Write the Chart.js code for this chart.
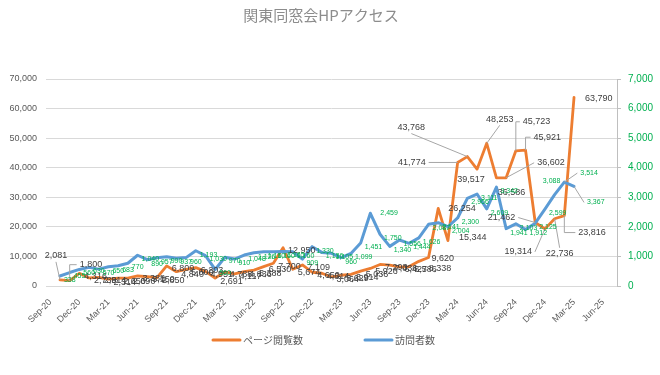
<!DOCTYPE html>
<html>
<head>
<meta charset="utf-8">
<script src="https://cdn.jsdelivr.net/npm/chart.js@4"></script>
<style>
  html, body { margin: 0; padding: 0; background: #fff; }
  #wrap { width: 660px; height: 375px; }
</style>
</head>
<body>
<div id="wrap"><canvas id="accessChart"></canvas></div>
<script>
const months = ["Oct-20","Nov-20","Dec-20","Jan-21","Feb-21","Mar-21","Apr-21","May-21","Jun-21","Jul-21","Aug-21","Sep-21",
  "Oct-21","Nov-21","Dec-21","Jan-22","Feb-22","Mar-22","Apr-22","May-22","Jun-22","Jul-22","Aug-22","Sep-22",
  "Oct-22","Nov-22","Dec-22","Jan-23","Feb-23","Mar-23","Apr-23","May-23","Jun-23","Jul-23","Aug-23","Sep-23",
  "Oct-23","Nov-23","Dec-23","Jan-24","Feb-24","Mar-24","Apr-24","May-24","Jun-24","Jul-24","Aug-24","Sep-24",
  "Oct-24","Nov-24","Dec-24","Jan-25","Feb-25","Mar-25"];

const tickLabels = ["Sep-20","Dec-20","Mar-21","Jun-21","Sep-21","Dec-21","Mar-22","Jun-22","Sep-22","Dec-22",
  "Mar-23","Jun-23","Sep-23","Dec-23","Mar-24","Jun-24","Sep-24","Dec-24","Mar-25","Jun-25"];

const pageViews = [2081, 1800, 4316, 2738, 2914, 2314, 2650, 2690, 3388, 3150,
  2850, 6809, 4840, 5600, 6203, 4951, 2691, 4788, 4117, 4836,
  5388, 6530, 7700, 12950, 5674, 7109, 4650, 4314, 3064, 3629,
  3914, 5036, 5926, 7293, 7036, 6427, 6586, 8338, 9620, 26254,
  15344, 41774, 43768, 39517, 48253, 36586, 36602, 45723, 45921, 21462,
  19314, 22736, 23816, 63790];

const visitors = [338, 455, 560, 630, 570, 650, 683, 770, 1040, 890,
  957, 990, 937, 960, 1193, 1030, 560, 970, 910, 1048,
  1126, 1160, 1160, 1165, 1160, 909, 1330, 1136, 1105, 960,
  1099, 1451, 2459, 1750, 1340, 1556, 1444, 1626, 2087, 2141,
  2004, 2300, 2966, 3111, 2609, 3342, 1941, 2103, 1912, 2125,
  2599, 3088, 3514, 3367];

const seriesNames = ["ページ閲覧数", "訪問者数"];
const chartTitle = "関東同窓会HPアクセス";

// month offset from Sep-20 (first tick)
const toPoints = arr => arr.map((v, i) => ({ x: i + 1, y: v }));

// hand-placed labels (dataset-index): offset from point, alignment, leader line
const labelSpots = {
  "0-0": { dx: -4, dy: -24, align: "center", line: "straight" },
  "0-1": { dx: 10, dy: -16, align: "left", line: "elbow" },
  "0-37": { dx: 10, dy: 7, align: "left" },
  "0-38": { dx: 3, dy: 1, align: "left" },
  "0-39": { dx: 10, dy: 0, align: "left" },
  "0-40": { dx: 11, dy: -3, align: "left" },
  "0-41": { dx: -32, dy: 0, align: "right", line: "straight" },
  "0-42": { dx: -56, dy: -29, align: "center", line: "straight" },
  "0-43": { dx: -6, dy: 10, align: "center" },
  "0-44": { dx: 13, dy: -24, align: "center", line: "straight" },
  "0-45": { dx: 15, dy: 15, align: "center" },
  "0-46": { dx: 31, dy: -15, align: "left", line: "straight" },
  "0-47": { dx: 7, dy: -29, align: "left", line: "elbow" },
  "0-48": { dx: 8, dy: -13, align: "left", line: "elbow" },
  "0-49": { dx: -20, dy: -5, align: "right", line: "straight" },
  "0-50": { dx: -13, dy: 23, align: "right", line: "straight" },
  "0-51": { dx: 5, dy: 35, align: "center", line: "straight" },
  "0-52": { dx: 14, dy: 17, align: "left", line: "elbow" },
  "0-53": { dx: 11, dy: 1, align: "left" },
  "1-32": { dx: 10, dy: 0, align: "left" },
  "1-51": { dx: -3, dy: -14, align: "center" },
  "1-52": { dx: 16, dy: -9, align: "left", line: "straight" },
  "1-53": { dx: 13, dy: 16, align: "left", line: "straight" }
};

const dataLabels = {
  id: "dataLabels",
  afterDatasetsDraw(chart, args, opts) {
    const ctx = chart.ctx;
    chart.data.datasets.forEach((ds, di) => {
      const style = opts.styles[di];
      chart.getDatasetMeta(di).data.forEach((pt, i) => {
        const text = ds.data[i].y.toLocaleString("en-US");
        const spot = labelSpots[di + "-" + i] || { dx: style.dx, dy: style.dy, align: "left" };
        const lx = pt.x + spot.dx;
        const ly = pt.y + spot.dy;
        ctx.save();
        ctx.font = style.font;
        ctx.fillStyle = style.color;
        ctx.textAlign = spot.align;
        ctx.textBaseline = "middle";
        ctx.fillText(text, lx, ly);
        if (spot.line) {
          let sx = lx, sy = ly;
          if (spot.align === "left") sx = lx - 3;
          else if (spot.align === "right") sx = lx + 3;
          else sy = ly + (spot.dy < 0 ? 6 : -6);
          ctx.strokeStyle = "#a6a6a6";
          ctx.lineWidth = 1;
          ctx.beginPath();
          ctx.moveTo(sx, sy);
          if (spot.line === "elbow") ctx.lineTo(pt.x, sy);
          ctx.lineTo(pt.x, pt.y);
          ctx.stroke();
        }
        ctx.restore();
      });
    });
  }
};

const titleAndLegend = {
  id: "titleAndLegend",
  afterDraw(chart) {
    const ctx = chart.ctx;
    ctx.save();
    ctx.font = "15px 'Noto Sans CJK JP'";
    ctx.fillStyle = "#8c8c8c";
    ctx.textAlign = "center";
    ctx.textBaseline = "middle";
    ctx.fillText(chartTitle, 321, 15);

    const items = [
      { x: 213, color: "#ED7D31", text: seriesNames[0] },
      { x: 365, color: "#5B9BD5", text: seriesNames[1] }
    ];
    ctx.font = "10px 'Noto Sans CJK JP'";
    ctx.fillStyle = "#595959";
    ctx.textAlign = "left";
    items.forEach(it => {
      ctx.strokeStyle = it.color;
      ctx.lineWidth = 3;
      ctx.lineCap = "round";
      ctx.beginPath();
      ctx.moveTo(it.x, 340);
      ctx.lineTo(it.x + 27, 340);
      ctx.stroke();
      ctx.fillText(it.text, it.x + 30, 340);
    });
    ctx.restore();
  }
};

const ctx = document.getElementById("accessChart").getContext("2d");
new Chart(ctx, {
  type: "line",
  data: {
    datasets: [
      {
        label: seriesNames[0],
        data: toPoints(pageViews),
        yAxisID: "y",
        borderColor: "#ED7D31",
        borderWidth: 2.8,
        pointRadius: 0,
        borderJoinStyle: "round",
        borderCapStyle: "round",
        order: 2
      },
      {
        label: seriesNames[1],
        data: toPoints(visitors),
        yAxisID: "y1",
        borderColor: "#5B9BD5",
        borderWidth: 3,
        pointRadius: 0,
        borderJoinStyle: "round",
        borderCapStyle: "round",
        order: 1
      }
    ]
  },
  options: {
    responsive: true,
    maintainAspectRatio: false,
    animation: false,
    layout: { padding: { top: 79, bottom: 39, left: 0, right: 0 } },
    plugins: {
      legend: { display: false },
      title: { display: false },
      tooltip: { enabled: false },
      dataLabels: {
        styles: [
          { font: "9px 'Liberation Sans'", color: "#404040", dx: 5, dy: 3 },
          { font: "7px 'Liberation Sans'", color: "#00B050", dx: 4, dy: 4 }
        ]
      }
    },
    scales: {
      x: {
        type: "linear",
        min: -0.44,
        max: 58.43,
        afterBuildTicks: scale => {
          scale.ticks = tickLabels.map((_, k) => ({ value: k * 3 }));
        },
        afterFit: scale => { scale.height = 50; },
        grid: { display: false },
        border: { display: false },
        ticks: {
          autoSkip: false,
          minRotation: 45,
          maxRotation: 45,
          padding: 3,
          color: "#595959",
          font: { family: "Liberation Sans", size: 9 },
          callback: v => tickLabels[Math.round(v / 3)]
        }
      },
      y: {
        position: "left",
        min: 0,
        max: 70000,
        afterFit: scale => { scale.width = 46; },
        grid: { color: "#d9d9d9", drawTicks: false },
        border: { display: false },
        ticks: {
          stepSize: 10000,
          padding: 9,
          color: "#595959",
          font: { family: "Liberation Sans", size: 9 },
          callback: v => v.toLocaleString("en-US")
        }
      },
      y1: {
        position: "right",
        min: 0,
        max: 7000,
        afterFit: scale => { scale.width = 43; },
        grid: { drawOnChartArea: false, color: "#bfbfbf", tickLength: 4 },
        border: { display: true, color: "#bfbfbf" },
        ticks: {
          stepSize: 1000,
          padding: 7,
          color: "#00B050",
          font: { family: "Liberation Sans", size: 10 },
          callback: v => v.toLocaleString("en-US")
        }
      }
    }
  },
  plugins: [dataLabels, titleAndLegend]
});
</script>
</body>
</html>
